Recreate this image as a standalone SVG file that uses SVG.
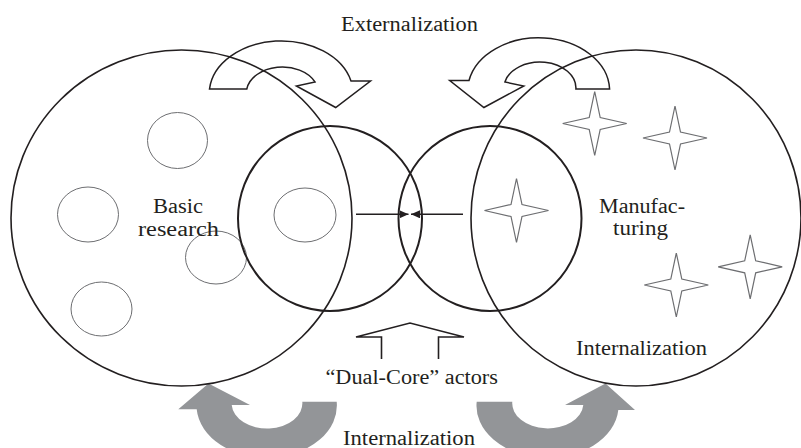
<svg xmlns="http://www.w3.org/2000/svg" width="801" height="448" viewBox="0 0 801 448">
<style>
.txt{font-family:"Liberation Serif","Times New Roman",serif;font-size:20px;fill:#231f20;}
.big{fill:none;stroke:#231f20;stroke-width:1.6;}
.core{fill:none;stroke:#231f20;stroke-width:2;}
.small{fill:none;stroke:#6d6e71;stroke-width:1;}
.star{fill:#ffffff;stroke:#6d6e71;stroke-width:1.2;stroke-linejoin:miter;}
.ext{fill:#ffffff;stroke:#231f20;stroke-width:1.5;stroke-linejoin:miter;}
.int{fill:#939598;stroke:none;}
.conn{stroke:#231f20;stroke-width:1.6;fill:none;}
</style>
<defs>
<marker id="ah" markerUnits="userSpaceOnUse" markerWidth="10" markerHeight="8" refX="9" refY="4" orient="auto">
<path d="M0,0 L9,4 L0,8 Z" fill="#231f20"/>
</marker>
<path id="starShape" d="M0,-32 L5.5,-6 L32,0 L5.5,6 L0,32 L-5.5,6 L-32,0 L-5.5,-6 Z"/>
</defs>
<rect width="801" height="448" fill="#ffffff"/>

<g id="flows">
<path id="ext-left" class="ext" d="M209.5,89 A72,53 0 0 1 351,81 L370.5,81 L335.7,107.5 L296.4,86 L315,82 A36,26 0 0 0 246.8,89 Z"/>
<path id="ext-right" class="ext" d="M609.6,89 A71,53 0 0 0 469,80.5 L449.7,80.5 L483.9,107.5 L523.8,86 L504.9,82 A36,26 0 0 1 575.9,89 Z"/>
<path id="int-left" class="int" d="M336.7,401.7 A70,52 0 0 1 196.7,409.3 L178.3,409.3 L208.5,383.5 L250,405 L231.7,405 A35,25 0 0 0 302.3,401.7 Z"/>
<path id="int-right" class="int" d="M476.7,401.7 A71,52 0 0 0 618.3,410 L635,410 L605.5,383.5 L565,405 L583.3,405 A35.5,25 0 0 1 512.3,401.7 Z"/>
<path id="dualcore-arrow" class="conn" stroke-width="1.3" d="M381.5,359 V337 H356 L410,323 L464,337 H438.5 V359"/>
<line class="conn" x1="356" y1="214.3" x2="408.5" y2="214.3" marker-end="url(#ah)"/>
<line class="conn" x1="463" y1="214.3" x2="411" y2="214.3" marker-end="url(#ah)"/>
</g>

<g id="basic-research">
<ellipse class="small" cx="177.5" cy="140.5" rx="30" ry="28"/>
<ellipse class="small" cx="88" cy="214.5" rx="30.5" ry="27.5"/>
<ellipse class="small" cx="305" cy="215" rx="31" ry="27"/>
<ellipse class="small" cx="216" cy="257.5" rx="30.5" ry="26.5"/>
<ellipse class="small" cx="101.5" cy="309" rx="30.5" ry="27"/>
<ellipse class="big" cx="181.5" cy="218" rx="170.5" ry="168"/>
<text class="txt" x="178" y="212.7" text-anchor="middle" textLength="50" lengthAdjust="spacingAndGlyphs">Basic</text>
<text class="txt" x="178.5" y="235.5" text-anchor="middle" textLength="81" lengthAdjust="spacingAndGlyphs">research</text>
</g>

<g id="manufacturing">
<use href="#starShape" class="star" x="594.7" y="123.5"/>
<use href="#starShape" class="star" x="675" y="138"/>
<use href="#starShape" class="star" x="516.5" y="210.5"/>
<use href="#starShape" class="star" x="676.3" y="285"/>
<use href="#starShape" class="star" x="750.2" y="266.8"/>
<ellipse class="big" cx="636" cy="218" rx="165" ry="168"/>
<text class="txt" x="642" y="212.5" text-anchor="middle" textLength="86" lengthAdjust="spacingAndGlyphs">Manufac-</text>
<text class="txt" x="640.5" y="235" text-anchor="middle" textLength="55" lengthAdjust="spacingAndGlyphs">turing</text>
<text class="txt" x="641.5" y="355" text-anchor="middle" textLength="131" lengthAdjust="spacingAndGlyphs">Internalization</text>
</g>

<g id="core-left">
<ellipse class="core" cx="330" cy="218.5" rx="92" ry="92.5"/>
</g>
<g id="core-right">
<ellipse class="core" cx="490" cy="218.5" rx="91.5" ry="92.5"/>
</g>

<g id="labels">
<text class="txt" x="409.5" y="30.5" text-anchor="middle" textLength="137" lengthAdjust="spacingAndGlyphs">Externalization</text>
<text class="txt" x="411.7" y="384" text-anchor="middle" textLength="172.5" lengthAdjust="spacingAndGlyphs">“Dual-Core” actors</text>
<text class="txt" x="409" y="444.5" text-anchor="middle" textLength="132" lengthAdjust="spacingAndGlyphs">Internalization</text>
</g>
</svg>
